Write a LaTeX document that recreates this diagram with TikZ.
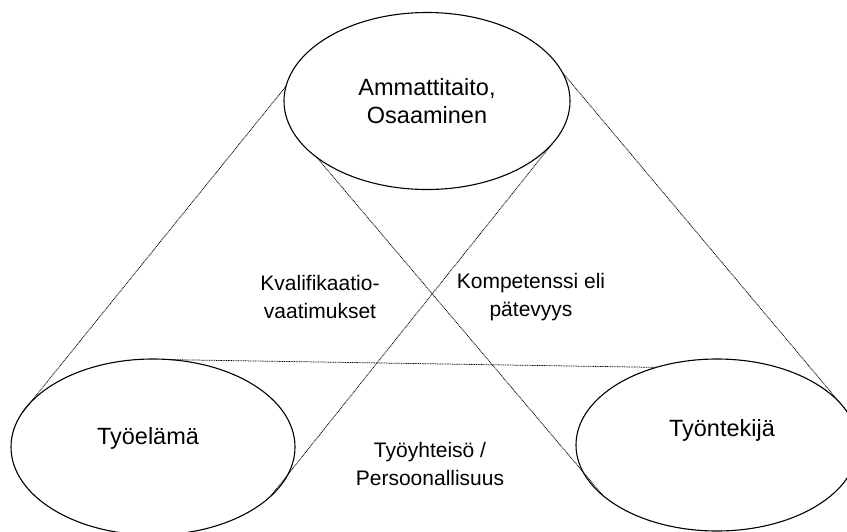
\documentclass[tikz,border=0pt]{standalone}
\usepackage{fontspec}
\setmainfont{Liberation Sans}
\usetikzlibrary{shapes.geometric}
\begin{document}
\begin{tikzpicture}[x=1pt,y=-1pt,
  oval/.style={ellipse,draw=black,line width=1.1pt,inner sep=0pt,outer sep=0pt},
  tie/.style={dash pattern=on 1pt off 0.7pt,line width=0.75pt,black},
  lbl/.style={align=center,font=\fontsize{21}{28}\selectfont,inner sep=0pt},
  olbl/.style={align=center,font=\fontsize{23.5}{28}\selectfont,inner sep=0pt}]
\useasboundingbox (0,0) rectangle (847,531);
\fill[white] (0,0) rectangle (847,531);
\node[oval,minimum width=286pt,minimum height=177pt] (top) at (427,101) {};
\node[oval,minimum width=284pt,minimum height=176pt] (left) at (153,447) {};
\node[oval,minimum width=282pt,minimum height=172pt] (right) at (717,445) {};
\draw[tie] (top.174.8) -- (left.165.7);
\draw[tie] (top.12.1) -- (right.19.0);
\draw[tie] (top.207.4) -- (right.204.3);
\draw[tie] (top.-19.7) -- (left.-23.5);
\draw[tie] (left.79.1) -- (right.128.3);
\node[olbl] (t1) at (427,101) {Ammattitaito,\\Osaaminen};
\node[lbl] (t2) at (320,297) {Kvalifikaatio-\\vaatimukset};
\node[lbl] (t3) at (531,297) {Kompetenssi eli\\pätevyys};
\node[olbl] (t4) at (148,438) {Työelämä};
\node[lbl] (t5) at (430,464) {Työyhteisö /\\Persoonallisuus};
\node[olbl] (t6) at (722,430) {Työntekijä};
\end{tikzpicture}
\end{document}
